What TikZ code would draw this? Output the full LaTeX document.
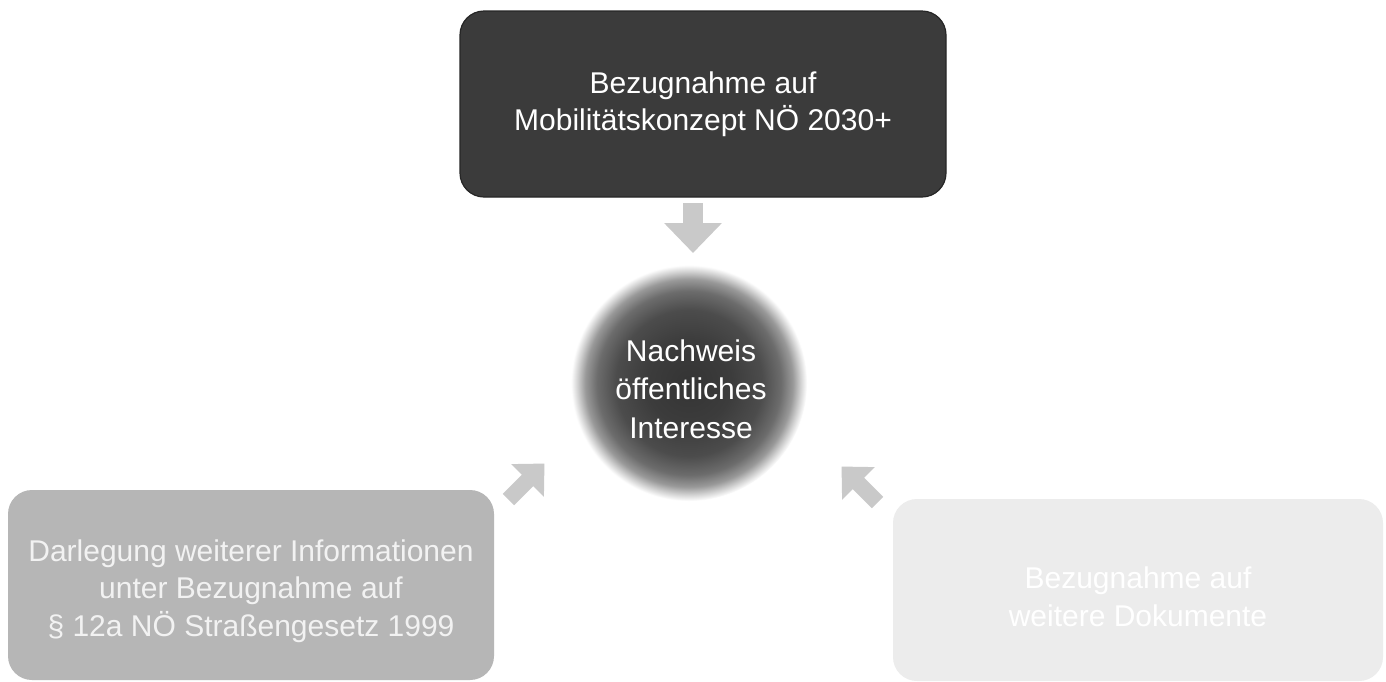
\documentclass[tikz,border=0pt]{standalone}
\usepackage{fontspec}
\setmainfont{Liberation Sans}
\usetikzlibrary{arrows.meta}
\definecolor{topbox}{HTML}{3B3B3B}
\definecolor{topedge}{HTML}{262626}
\definecolor{leftbox}{HTML}{B6B6B6}
\definecolor{rightbox}{HTML}{ECECEC}
\definecolor{arrowgray}{HTML}{C9C9C9}
\definecolor{lefttext}{HTML}{F2F2F2}
\definecolor{cA}{HTML}{343434}
\definecolor{cA2}{HTML}{3C3C3C}
\definecolor{cB}{HTML}{4C4C4C}
\definecolor{cC}{HTML}{6C6C6C}
\definecolor{cC2}{HTML}{999999}
\definecolor{cD}{HTML}{D4D4D4}
\pgfdeclareradialshading{nachweis}{\pgfpoint{0bp}{0bp}}{color(0bp)=(cA); color(9bp)=(cA2); color(15.5bp)=(cB); color(19.5bp)=(cC); color(22bp)=(cC2); color(23.7bp)=(cD); color(25bp)=(white); color(50bp)=(white)}
\tikzset{
  txt/.style={font=\fontsize{30}{37.5}\selectfont, align=center, inner sep=0pt},
  boxnode/.style={txt, rounded corners=24pt, minimum width=#1},
  blockarrow/.style={draw=arrowgray, line width=#1, -{Triangle[width=2.8*#1, length=1.5*#1]}},
}
\begin{document}
\begin{tikzpicture}[x=1pt, y=-1pt]
\useasboundingbox (0,0) rectangle (1386,681);
\fill[white] (0,0) rectangle (1386,681);
% circle
\node[circle, minimum size=236pt, inner sep=0pt, shading=nachweis] (mid) at (689,383) {};
\node[txt, text=white, font=\fontsize{30}{38.5}\selectfont] (midtext) at (691,389) {Nachweis\\öffentliches\\Interesse};
% top box
\node[boxnode=486pt, minimum height=186pt, fill=topbox, draw=topedge, line width=1.2pt, text=white]
  (top) at (703,104) {Bezugnahme auf\\Mobilitätskonzept NÖ 2030+};
% left box
\node[boxnode=486pt, minimum height=190pt, fill=leftbox]
  (left) at (251,585) {};
\node[txt, text=lefttext] (lefttxt) at (251,591) {Darlegung weiterer Informationen\\unter Bezugnahme auf\\§ 12a NÖ Straßengesetz 1999};
% right box
\node[boxnode=490pt, minimum height=182pt, fill=rightbox]
  (right) at (1138,590) {};
\node[txt, text=white] (righttext) at (1138,597) {Bezugnahme auf\\weitere Dokumente};
% arrows
\coordinate (dA) at (693,203);
\coordinate (dB) at (693,253);
\draw[blockarrow=20pt] (dA) -- (dB);
\coordinate (lA) at (508.5,499.5);
\coordinate (lB) at (544.5,463.5);
\draw[blockarrow=16pt] (lA) -- (lB);
\coordinate (rA) at (877.5,502.5);
\coordinate (rB) at (841.5,466.5);
\draw[blockarrow=16pt] (rA) -- (rB);
\end{tikzpicture}
\end{document}
